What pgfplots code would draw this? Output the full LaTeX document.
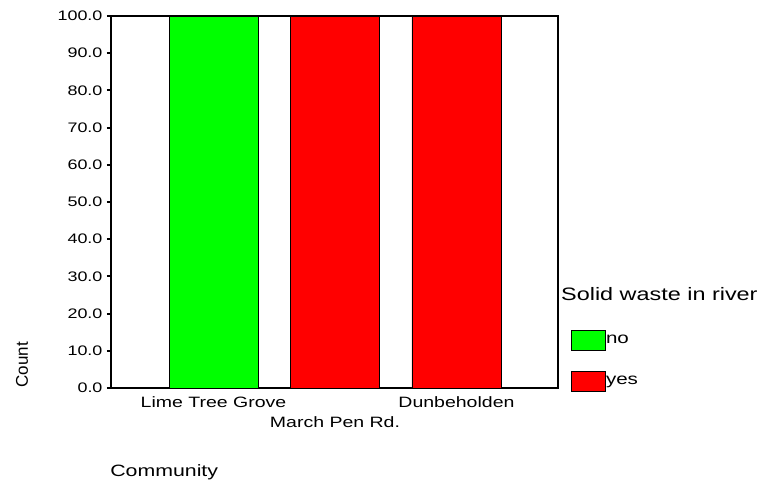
\documentclass[border=0pt]{standalone}
\usepackage{pgfplots}
\pgfplotsset{compat=1.18}
\usepackage{fontspec}
\setmainfont{Liberation Sans}
\newfontfamily\spss[FakeStretch=1.3]{Liberation Sans}
\newfontfamily\spssplain{Liberation Sans}
\definecolor{spssgreen}{RGB}{0,255,0}
\definecolor{spssred}{RGB}{255,0,0}

\begin{document}
\begin{tikzpicture}
\useasboundingbox (0,0) rectangle (760pt,483pt);
\begin{axis}[
    at={(111pt,95pt)}, anchor=south west,
    scale only axis,
    width=447pt, height=372pt,
    clip=false,
    ybar, bar shift=0pt,
    bar width=0.733,
    xmin=-0.844, xmax=2.836,
    ymin=0, ymax=100,
    ytick={0,10,...,100},
    ytick pos=left,
    yticklabel style={font=\spss\fontsize{13.8}{16}\selectfont, xshift=-1pt},
    /pgf/number format/assume math mode=true,
    y tick label style={/pgf/number format/.cd, fixed, fixed zerofill, precision=1},
    tick align=outside,
    major tick length=4pt,
    tick style={black, line width=2pt},
    xtick={0,2},
    xticklabels={Lime Tree Grove,Dunbeholden},
    extra x ticks={1},
    extra x tick labels={March Pen Rd.},
    extra x tick style={xticklabel style={yshift=-20pt}},
    xtick style={draw=none},
    xticklabel style={font=\spss\fontsize{15}{18}\selectfont, yshift=-1pt},
    axis line style={black, line width=1.2pt},
    ylabel={Count},
    ylabel style={font=\spssplain\fontsize{17}{20}\selectfont, at={(axis description cs:-0.199,0.062)}, anchor=center},
    xlabel={Community},
    xlabel style={font=\spss\fontsize{16.4}{20}\selectfont, at={(axis description cs:0.119,-0.226)}, anchor=center},
    legend image code/.code={\draw[#1, line width=1pt] (0pt,-10pt) rectangle (34pt,10pt);},
    legend style={at={(axis description cs:1.022,0.162)}, anchor=north west,
        draw=none, fill=none, font=\spss\fontsize{15.8}{18}\selectfont,
        row sep=20pt, column sep=0pt,
        nodes={inner xsep=0pt, inner ysep=0pt}},
    legend cell align=left,
]
\addplot[fill=spssgreen, draw=black, line width=0.8pt] coordinates {(0,100)};
\addlegendentry{no}
\addplot[fill=spssred, draw=black, line width=0.8pt] coordinates {(1,100) (2,100)};
\addlegendentry{yes}
\node[anchor=base west, font=\spss\fontsize{18}{20}\selectfont, inner sep=0pt] at (axis description cs:1.0067,0.234) {Solid waste in river};
\end{axis}
\end{tikzpicture}
\end{document}
